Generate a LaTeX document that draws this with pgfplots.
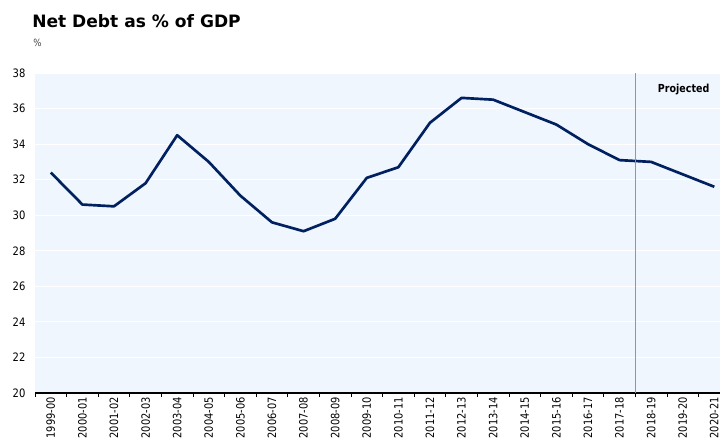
\documentclass[border=0pt]{standalone}
\usepackage{fontspec}
\setmainfont{DejaVu Sans}
\newfontfamily\tickfont{DejaVu Sans}[FakeStretch=0.86]
\usepackage{pgfplots}
\pgfplotsset{compat=1.18}
\definecolor{bgblue}{RGB}{239,246,253}
\definecolor{navy}{RGB}{0,32,96}
\definecolor{projgray}{RGB}{150,150,150}
\begin{document}
\begin{tikzpicture}
\useasboundingbox (0,0) rectangle (540pt,330pt);
\node[anchor=base west,inner sep=0pt,font=\fontsize{12.8}{14}\selectfont\bfseries] at (24pt,309pt) {Net Debt as \% of GDP};
\node[anchor=base west,inner sep=0pt,font=\tickfont\fontsize{7.5}{8}\selectfont,text=black!75] at (24.8pt,295pt) {\%};
\begin{axis}[
  at={(26.25pt,35.25pt)}, anchor=south west,
  scale only axis, width=513.75pt, height=240pt,
  xmin=-0.5, xmax=21.18, ymin=20, ymax=38,
  ytick={20,22,...,38},
  xtick={0,...,21},
  xticklabels={1999-00,2000-01,2001-02,2002-03,2003-04,2004-05,2005-06,2006-07,2007-08,2008-09,2009-10,2010-11,2011-12,2012-13,2013-14,2014-15,2015-16,2016-17,2017-18,2018-19,2019-20,2020-21},
  minor xtick={-0.5,0.5,...,20.5},
  axis x line*=bottom, axis y line*=left,
  y axis line style={draw=none},
  x axis line style={black, line width=0.8pt, -},
  tick align=outside,
  major tick length=0pt,
  minor tick length=3pt,
  xtick style={black, line width=0.6pt},
  ytick style={draw=none},
  /pgf/number format/assume math mode=true,
  yticklabel style={font=\tickfont\fontsize{8.7}{9}\selectfont, inner sep=0pt, xshift=-7pt},
  xticklabel style={font=\tickfont\fontsize{8.6}{9}\selectfont, rotate=90, anchor=east, inner sep=0pt},
  xticklabel shift=3pt,
  ymajorgrids,
  major grid style={white, line width=0.8pt},
  axis background/.style={fill=bgblue},
  clip=false,
]
\addplot[navy, line width=2pt, line join=round] coordinates {
(0,32.4) (1,30.6) (2,30.5) (3,31.8) (4,34.5) (5,33.0) (6,31.1) (7,29.6) (8,29.1) (9,29.8)
(10,32.1) (11,32.7) (12,35.2) (13,36.6) (14,36.5) (15,35.8) (16,35.1) (17,34.0) (18,33.1)
(19,33.0) (20,32.3) (21,31.6)
};
\addplot[projgray, line width=0.8pt] coordinates {(18.5,20) (18.5,38)};
\node[anchor=base east, inner sep=0pt, font=\tickfont\fontsize{8.3}{9}\selectfont\bfseries] at (axis cs:20.85,36.93) {Projected};
\end{axis}
\end{tikzpicture}
\end{document}
